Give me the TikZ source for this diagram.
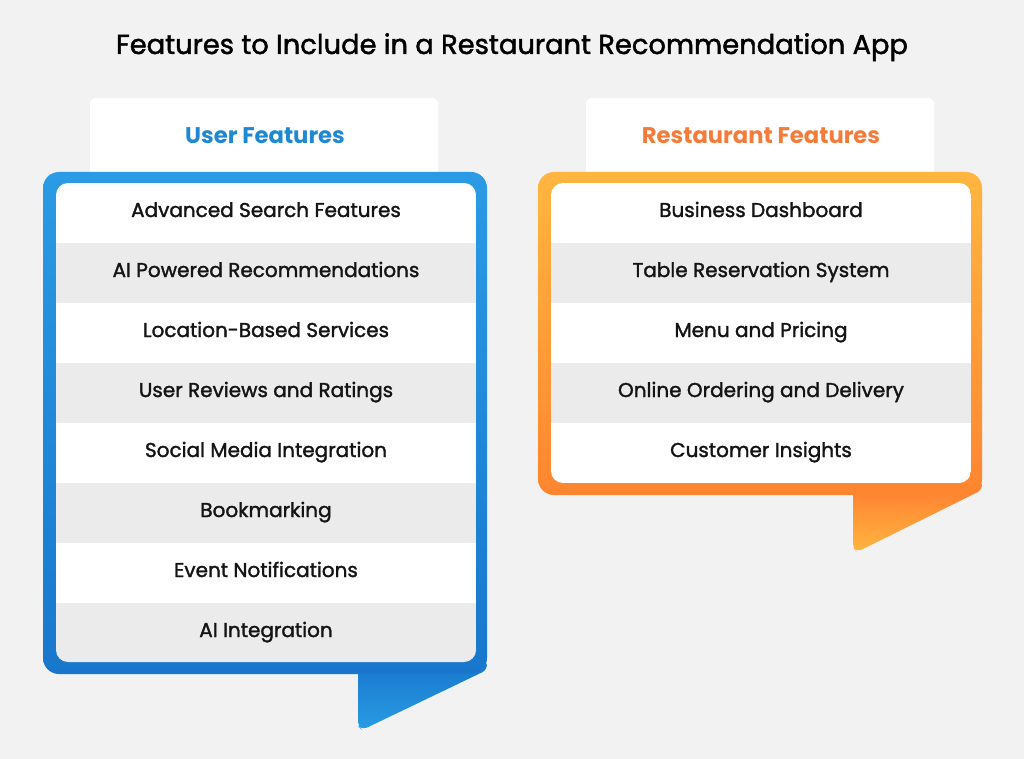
\documentclass[tikz,border=0pt]{standalone}
\usepackage{fontspec}
\setmainfont{Poppins}
\newfontfamily\medfont{Poppins}[FakeBold=1.6]
\begin{document}
\begin{tikzpicture}[x=0.75pt,y=-0.75pt,
  hdr/.style={fill=white,rounded corners=4pt},
  row/.style={font=\medfont\fontsize{15}{16}\selectfont, text=black!92, anchor=base},
  htxt/.style={font=\fontsize{17}{20}\selectfont\bfseries, anchor=base}]
\definecolor{bg}{HTML}{F2F2F2}
\definecolor{rowg}{HTML}{EBEBEB}
\definecolor{bluet}{HTML}{2A9BE4}
\definecolor{blueb}{HTML}{1877CC}
\definecolor{oranget}{HTML}{FFB640}
\definecolor{orangeb}{HTML}{FF8530}
\definecolor{orangetail}{HTML}{FF7A30}
\definecolor{bluetxt}{HTML}{1E88D2}
\definecolor{orangetxt}{HTML}{F47B3A}
\fill[bg] (0,0) rectangle (1024,759);
\useasboundingbox (0,0) rectangle (1024,759);
\node[font=\medfont\fontsize{20.5}{22}\selectfont, anchor=base] (title) at (512,54) {Features to Include in a Restaurant Recommendation App};
% left panel
\fill[hdr] (90,98) rectangle (438,180);
\node[htxt,text=bluetxt] (lh) at (265,144) {User Features};
\shade[top color=blueb,bottom color=bluet,rounded corners=4pt] (358,660) -- (487,660) -- (487,670) -- (362,730) -- (358,726) -- cycle;
\shade[top color=bluet,bottom color=blueb,rounded corners=12pt] (43,172) rectangle (487,674);
\begin{scope}
\clip[rounded corners=9pt] (56,183) rectangle (476,662);
\foreach \i in {0,...,7}{
  \pgfmathsetmacro{\yy}{183+60*\i}
  \ifodd\i \fill[rowg] (56,\yy) rectangle (476,\yy+60); \else \fill[white] (56,\yy) rectangle (476,\yy+60); \fi
}
\end{scope}
\foreach [count=\i from 0] \t in {Advanced Search Features,AI Powered Recommendations,Location-Based Services,User Reviews and Ratings,Social Media Integration,Bookmarking,Event Notifications,AI Integration}
  \node[row] (l\i) at (266,{217+60*\i}) {\t};
% right panel
\fill[hdr] (586,98) rectangle (934,180);
\node[htxt,text=orangetxt] (rh) at (761,144) {Restaurant Features};
\shade[top color=orangetail,bottom color=oranget,rounded corners=4pt] (853,480) -- (982,480) -- (982,490) -- (857,552) -- (853,548) -- cycle;
\shade[top color=oranget,bottom color=orangeb,rounded corners=12pt] (538,172) rectangle (982,495);
\begin{scope}
\clip[rounded corners=9pt] (551,183) rectangle (971,483);
\foreach \i in {0,...,4}{
  \pgfmathsetmacro{\yy}{183+60*\i}
  \ifodd\i \fill[rowg] (551,\yy) rectangle (971,\yy+60); \else \fill[white] (551,\yy) rectangle (971,\yy+60); \fi
}
\end{scope}
\foreach [count=\i from 0] \t in {Business Dashboard,Table Reservation System,Menu and Pricing,Online Ordering and Delivery,Customer Insights}
  \node[row] (r\i) at (761,{217+60*\i}) {\t};
\end{tikzpicture}
\end{document}
